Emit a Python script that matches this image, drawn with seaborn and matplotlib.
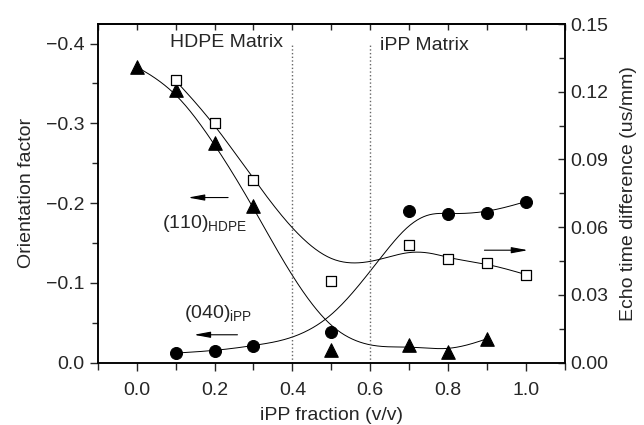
import numpy as np
import matplotlib
matplotlib.use("Agg")
import matplotlib.pyplot as plt
import seaborn as sns
from matplotlib.ticker import MultipleLocator, FuncFormatter

# data
frac_hdpe = [0.0, 0.1, 0.2, 0.3, 0.5, 0.7, 0.8, 0.9]
orient_hdpe = [-0.371, -0.342, -0.275, -0.196, -0.016, -0.022, -0.014, -0.030]
frac_ipp = [0.1, 0.2, 0.3, 0.5, 0.7, 0.8, 0.9, 1.0]
orient_ipp = [-0.012, -0.015, -0.021, -0.038, -0.190, -0.186, -0.188, -0.202]
frac_echo = [0.1, 0.2, 0.3, 0.5, 0.7, 0.8, 0.9, 1.0]
echo_diff = [0.125, 0.106, 0.081, 0.036, 0.052, 0.046, 0.044, 0.039]


def bspline(xs, ys, n=60):
    # cubic B-spline using the points as control points (ends clamped)
    px = np.r_[xs[0], xs[0], xs, xs[-1], xs[-1]]
    py = np.r_[ys[0], ys[0], ys, ys[-1], ys[-1]]
    t = np.linspace(0, 1, n)
    b = np.array([(1 - t) ** 3, 3 * t ** 3 - 6 * t ** 2 + 4,
                  -3 * t ** 3 + 3 * t ** 2 + 3 * t + 1, t ** 3]) / 6
    cx, cy = [], []
    for i in range(len(px) - 3):
        cx.append(b.T @ px[i:i + 4])
        cy.append(b.T @ py[i:i + 4])
    return np.concatenate(cx), np.concatenate(cy)


sns.set_style("ticks")
plt.rcParams['font.family'] = ['Liberation Sans', 'DejaVu Sans']
plt.rcParams['mathtext.fontset'] = 'custom'
plt.rcParams['mathtext.rm'] = 'Liberation Sans'
plt.rcParams['font.size'] = 14

fig = plt.figure(figsize=(6.44, 4.25), dpi=100)
ax = fig.add_axes([0.1517, 0.1466, 0.7256, 0.7969])
ax2 = ax.twinx()

lw = 0.7
for xs, ys, a in [(frac_hdpe, orient_hdpe, ax), (frac_ipp, orient_ipp, ax),
                  (frac_echo, echo_diff, ax2)]:
    cx, cy = bspline(xs, ys)
    sns.lineplot(x=cx, y=cy, ax=a, color='black', lw=lw, sort=False,
                 estimator=None, zorder=2)

sns.scatterplot(x=frac_hdpe, y=orient_hdpe, ax=ax, marker='^', s=95,
                color='black', edgecolor='black', zorder=3)
sns.scatterplot(x=frac_ipp, y=orient_ipp, ax=ax, marker='o', s=75,
                color='black', edgecolor='black', zorder=3)
sns.scatterplot(x=frac_echo, y=echo_diff, ax=ax2, marker='s', s=55,
                color='white', edgecolor='black', linewidth=0.9, zorder=3)

# matrix boundaries
ax.vlines([0.4, 0.6], 0, -0.398, colors='#666666', linestyles=':', lw=1.0)

ax.text(0.23, -0.401, 'HDPE Matrix', ha='center', va='center', fontsize=14)
ax.text(0.74, -0.397, 'iPP Matrix', ha='center', va='center', fontsize=14)
ax.text(0.175, -0.175, r'(110)$_{\mathrm{HDPE}}$', ha='center', va='center', fontsize=14)
ax.text(0.21, -0.062, r'(040)$_{\mathrm{iPP}}$', ha='center', va='center', fontsize=14)

arrow = dict(arrowstyle='-|>,head_length=0.7,head_width=0.13', color='black', lw=0.8)
ax.annotate('', xy=(0.125, -0.207), xytext=(0.242, -0.207), arrowprops=arrow)
ax.annotate('', xy=(0.14, -0.035), xytext=(0.266, -0.035), arrowprops=arrow)
ax.annotate('', xy=(1.012, -0.141), xytext=(0.886, -0.141), arrowprops=arrow)

ax.set_xlim(-0.1, 1.1)
ax.set_ylim(0, -0.4245)
ax2.set_ylim(0, 0.15)

ax.xaxis.set_major_locator(MultipleLocator(0.2))
ax.xaxis.set_minor_locator(MultipleLocator(0.1))
ax.yaxis.set_major_locator(MultipleLocator(0.1))
ax.yaxis.set_minor_locator(MultipleLocator(0.05))
ax2.yaxis.set_major_locator(MultipleLocator(0.03))
ax2.yaxis.set_minor_locator(MultipleLocator(0.015))
ax.xaxis.set_major_formatter(FuncFormatter(lambda v, p: f"{v:.1f}".replace('-', '\u2212')))
ax.yaxis.set_major_formatter(FuncFormatter(
    lambda v, p: "0.0" if abs(v) < 1e-9 else f"{v:.1f}".replace('-', '\u2212')))
ax2.yaxis.set_major_formatter(FuncFormatter(lambda v, p: f"{v:.2f}"))

ax.tick_params(axis='x', which='major', direction='out', length=6, width=1, labelsize=14, pad=8)
ax.tick_params(axis='x', which='minor', direction='out', length=5, width=1)
ax.tick_params(axis='y', which='major', direction='out', length=6, width=1, labelsize=14)
ax.tick_params(axis='y', which='minor', direction='out', length=4, width=1)
ax2.tick_params(axis='y', which='major', direction='in', length=5, width=1, labelsize=14)
ax2.tick_params(axis='y', which='minor', direction='in', length=4, width=1)

top = ax.secondary_xaxis('top')
top.xaxis.set_major_locator(MultipleLocator(0.1))
top.tick_params(direction='in', length=4, width=1, labeltop=False)

for a in (ax, ax2):
    for s in a.spines.values():
        s.set_linewidth(1.1)
        s.set_color('black')
top.spines['top'].set_linewidth(1.1)

ax.set_xlabel('iPP fraction (v/v)', fontsize=14, labelpad=6)
ax.set_ylabel('Orientation factor', fontsize=14, labelpad=8)
ax2.set_ylabel('Echo time difference (us/mm)', fontsize=14, labelpad=9)

fig.savefig('out.png', dpi=100)
